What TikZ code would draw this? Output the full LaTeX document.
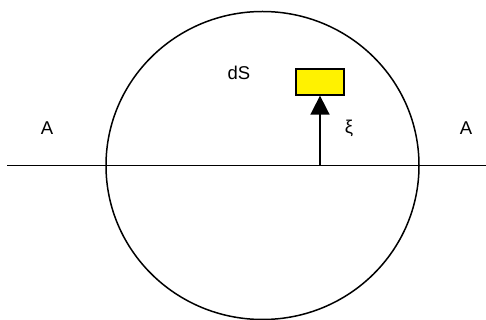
\documentclass[tikz,border=0pt]{standalone}
\usepackage{fontspec}
\setmainfont{Liberation Sans}
\usetikzlibrary{arrows.meta,shapes.geometric}
\begin{document}
\begin{tikzpicture}[x=1pt,y=-1pt,
  lbl/.style={font=\fontsize{18.5}{22}\selectfont, inner sep=0pt},
  ln/.style={line width=1.5pt}]
\useasboundingbox (0,0) rectangle (486,320);
\node[draw, ln, ellipse, minimum width=313pt, minimum height=308pt, inner sep=0pt] (circ) at (262.5,165.5) {};
\coordinate (L) at (7,165.5);
\coordinate (R) at (486,165.5);
\draw[ln] (L) -- (R);
\node[draw=black, line width=1.3pt, fill=yellow, minimum width=48pt, minimum height=26pt, inner sep=0pt] (box) at (320,82) {};
\coordinate (base) at (box.south |- L);
\draw[line width=1.7pt, -{Triangle[width=19pt,length=19pt]}] (base) -- (box.south);
\node[lbl] (xi) at (349,128) {ξ};
\node[lbl] (dS) at (239,73) {dS};
\node[lbl] (A1) at (47,128) {A};
\node[lbl] (A2) at (466,128) {A};
\end{tikzpicture}
\end{document}
